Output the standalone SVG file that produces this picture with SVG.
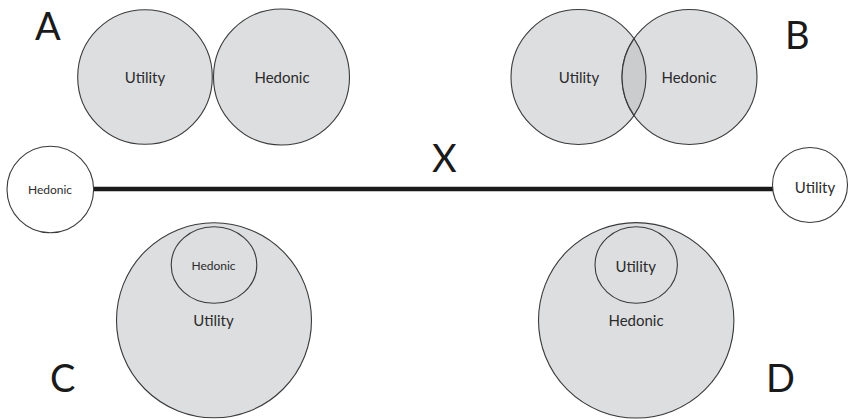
<svg xmlns="http://www.w3.org/2000/svg" width="850" height="419" viewBox="0 0 850 419">
  <style>
    .set { fill: #dddee0; stroke: #3a3a3a; stroke-width: 1.1; }
    .lens { fill: #cbccce; stroke: #3a3a3a; stroke-width: 1.1; }
    .pole { fill: #ffffff; stroke: #3a3a3a; stroke-width: 1.1; }
    .lbl { font-family: Lato, "Open Sans", "Liberation Sans", sans-serif; fill: #2b2b2b; text-anchor: middle; }
    .big { font-size: 15px; }
    .small { font-size: 12px; }
    .letter { font-family: Lato, "Open Sans", "Liberation Sans", sans-serif; font-size: 38px; fill: #1a1a1a; }
    .axis { stroke: #1a1a1a; stroke-width: 4.5; fill: none; }
  </style>
  <rect width="850" height="419" fill="#ffffff"/>

  <g id="connectors">
    <line class="axis" x1="94" y1="189" x2="773" y2="189"/>
  </g>

  <g id="label-A"><text class="letter" x="35" y="40">A</text></g>
  <g id="label-B"><text class="letter" x="785" y="49">B</text></g>
  <g id="label-X"><text class="letter" x="432" y="172">X</text></g>
  <g id="label-C"><text class="letter" x="50" y="392">C</text></g>
  <g id="label-D"><text class="letter" x="766" y="392">D</text></g>

  <g id="A-utility">
    <circle class="set" cx="145" cy="77" r="67.3"/>
    <text class="lbl big" x="145" y="83">Utility</text>
  </g>
  <g id="A-hedonic">
    <circle class="set" cx="281.5" cy="77" r="68"/>
    <text class="lbl big" x="282" y="83">Hedonic</text>
  </g>

  <g id="B-utility">
    <circle class="set" cx="578.5" cy="77" r="67.5"/>
    <text class="lbl big" x="579" y="83">Utility</text>
  </g>
  <g id="B-hedonic">
    <circle class="set" cx="689.5" cy="77" r="67.5"/>
    <text class="lbl big" x="689" y="83">Hedonic</text>
  </g>
  <g id="B-overlap">
    <path class="lens" d="M634,38.6 A67.5,67.5 0 0 1 634,115.4 A67.5,67.5 0 0 1 634,38.6 Z"/>
  </g>

  <g id="X-hedonic">
    <circle class="pole" cx="50.3" cy="189.5" r="43.3"/>
    <text class="lbl small" x="50" y="194">Hedonic</text>
  </g>
  <g id="X-utility">
    <circle class="pole" cx="810" cy="185" r="37.5"/>
    <text class="lbl big" x="815" y="192.5">Utility</text>
  </g>

  <g id="C-utility">
    <circle class="set" cx="214" cy="320.3" r="97.5"/>
    <text class="lbl big" x="213.5" y="325.5">Utility</text>
  </g>
  <g id="C-hedonic">
    <ellipse class="set" cx="214" cy="265" rx="42.8" ry="38.3"/>
    <text class="lbl small" x="213.5" y="270">Hedonic</text>
  </g>

  <g id="D-hedonic">
    <circle class="set" cx="636.2" cy="320.3" r="97.7"/>
    <text class="lbl big" x="636" y="325.5">Hedonic</text>
  </g>
  <g id="D-utility">
    <ellipse class="set" cx="636.2" cy="265" rx="41.2" ry="38.3"/>
    <text class="lbl big" x="635.7" y="271.5">Utility</text>
  </g>
</svg>
